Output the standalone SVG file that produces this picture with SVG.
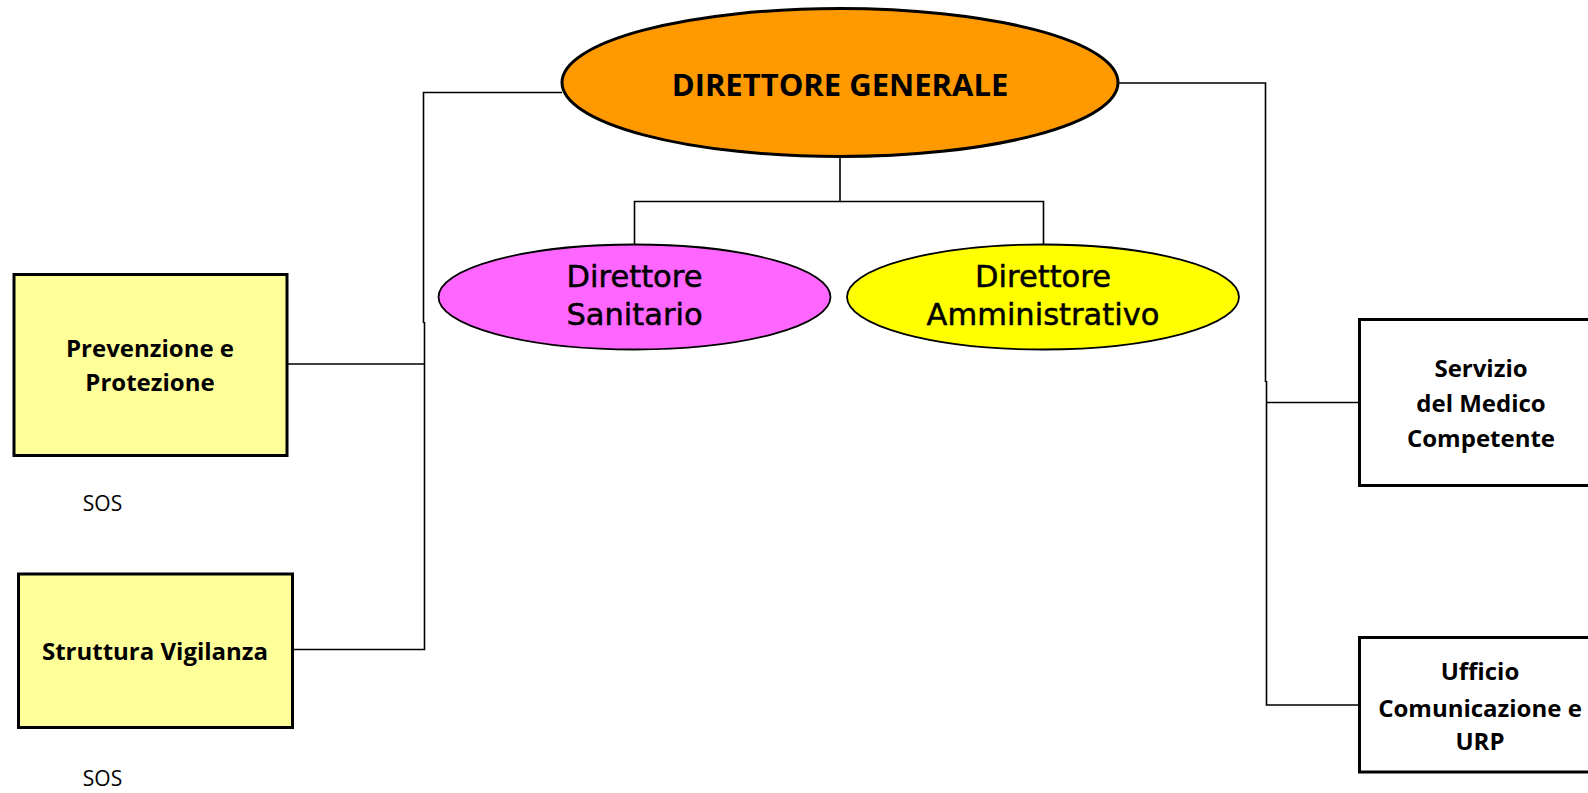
<svg xmlns="http://www.w3.org/2000/svg" width="1588" height="793" viewBox="0 0 1588 793">
<style>
.conn{fill:none;stroke:#000;stroke-width:1.6}
.box{fill:#FFFF99;stroke:#000;stroke-width:3}
.wbox{fill:#FFFFFF;stroke:#000;stroke-width:3}
.bt{font-family:"Open Sans","Liberation Sans",sans-serif;font-weight:bold;font-size:24px;fill:#000;text-anchor:middle}
.et{font-family:"DejaVu Sans","Liberation Sans",sans-serif;font-size:30.5px;fill:#000;stroke:#000;stroke-width:0.5;text-anchor:middle}
.sos{font-family:"Open Sans","Liberation Sans",sans-serif;font-size:21px;fill:#000;text-anchor:middle}
</style>
<rect width="1588" height="793" fill="#FFFFFF"/>
<g id="connectors">
<polyline class="conn" points="562,92.5 423.5,92.5 423.5,323"/>
<polyline class="conn" points="424.5,322 424.5,649.5 294,649.5"/>
<line class="conn" x1="288" y1="364" x2="424.5" y2="364"/>
<polyline class="conn" points="840,157 840,201.5 634.5,201.5 634.5,245"/>
<polyline class="conn" points="840,201.5 1043.5,201.5 1043.5,245"/>
<polyline class="conn" points="1118,83 1265.5,83 1265.5,382"/>
<polyline class="conn" points="1266.5,381 1266.5,705 1358,705"/>
<line class="conn" x1="1266.5" y1="402.5" x2="1358" y2="402.5"/>
</g>
<g id="direttore-generale">
<ellipse cx="840" cy="82.5" rx="278" ry="74" fill="#FF9900" stroke="#000" stroke-width="3"/>
<text x="840" y="96" style="font-family:'Open Sans','Liberation Sans',sans-serif;font-weight:bold;font-size:31px;text-anchor:middle">DIRETTORE GENERALE</text>
</g>
<g id="direttore-sanitario">
<ellipse cx="634.5" cy="297" rx="196" ry="52.5" fill="#FF66FF" stroke="#000" stroke-width="1.8"/>
<text class="et" x="634.5" y="286.5">Direttore</text>
<text class="et" x="634.5" y="325">Sanitario</text>
</g>
<g id="direttore-amministrativo">
<ellipse cx="1043" cy="297" rx="196" ry="52.5" fill="#FFFF00" stroke="#000" stroke-width="1.8"/>
<text class="et" x="1043" y="286.5">Direttore</text>
<text class="et" x="1043" y="325">Amministrativo</text>
</g>
<g id="prevenzione-protezione">
<rect class="box" x="14" y="274.5" width="273" height="181"/>
<text class="bt" x="150" y="357">Prevenzione e</text>
<text class="bt" x="150" y="391">Protezione</text>
</g>
<g id="sos-1"><text class="sos" x="102.5" y="511">SOS</text></g>
<g id="struttura-vigilanza">
<rect class="box" x="18.5" y="574" width="274" height="153.5"/>
<text class="bt" x="155" y="659.5">Struttura Vigilanza</text>
</g>
<g id="sos-2"><text class="sos" x="102.5" y="786">SOS</text></g>
<g id="servizio-medico">
<rect class="wbox" x="1359.5" y="319.5" width="245" height="166"/>
<text class="bt" x="1481" y="377">Servizio</text>
<text class="bt" x="1481" y="411.5">del Medico</text>
<text class="bt" x="1481" y="446.5">Competente</text>
</g>
<g id="ufficio-comunicazione">
<rect class="wbox" x="1359.5" y="637.5" width="245" height="134.5"/>
<text class="bt" x="1480" y="680">Ufficio</text>
<text class="bt" x="1480" y="716.5">Comunicazione e</text>
<text class="bt" x="1480" y="750">URP</text>
</g>
</svg>
